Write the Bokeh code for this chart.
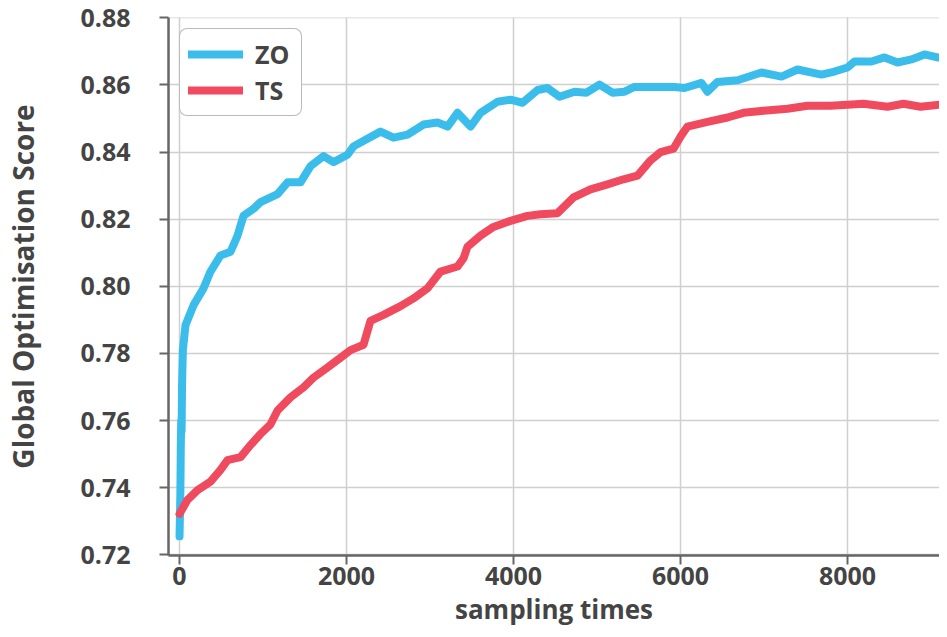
from bokeh.plotting import figure
from bokeh.models import FixedTicker, PrintfTickFormatter, Legend, LegendItem, Range1d
from bokeh.embed import file_html
from bokeh.resources import INLINE

# ---- data ----
zo_x = [0, 10, 15, 20, 25, 30, 40, 72, 168, 287, 371, 491, 611, 695, 766, 886, 970, 1174,
        1294, 1449, 1569, 1725, 1844, 2012, 2084, 2228, 2407, 2563, 2731, 2922, 3090, 3210,
        3329, 3485, 3605, 3808, 3964, 4108, 4288, 4407, 4551, 4731, 4874, 5030, 5186, 5330,
        5449, 5725, 5928, 6048, 6252, 6323, 6443, 6683, 6970, 7210, 7401, 7689, 7844, 8000,
        8084, 8287, 8443, 8599, 8766, 8922, 9078, 9246]
zo_y = [0.7255, 0.738, 0.752, 0.760, 0.757, 0.770, 0.781, 0.7885, 0.7944, 0.7994, 0.8044,
        0.8092, 0.8103, 0.8151, 0.8210, 0.8231, 0.8251, 0.8275, 0.8310, 0.8310, 0.8358,
        0.8388, 0.8370, 0.8392, 0.8417, 0.8437, 0.8461, 0.8443, 0.8452, 0.8482, 0.8488,
        0.8476, 0.8517, 0.8476, 0.8517, 0.8550, 0.8556, 0.8547, 0.8585, 0.8591, 0.8565,
        0.8580, 0.8577, 0.8601, 0.8577, 0.8580, 0.8594, 0.8594, 0.8594, 0.8591, 0.8606,
        0.8580, 0.8609, 0.8614, 0.8637, 0.8625, 0.8646, 0.8631, 0.8640, 0.8652, 0.8670,
        0.8670, 0.8682, 0.8667, 0.8676, 0.8691, 0.8682, 0.8682]

ts_x = [0, 96, 216, 371, 491, 575, 731, 850, 970, 1090, 1174, 1329, 1485, 1605, 1772, 1928,
        2048, 2204, 2287, 2443, 2647, 2802, 2970, 3126, 3329, 3401, 3449, 3605, 3760, 3964,
        4168, 4323, 4527, 4719, 4922, 5126, 5317, 5485, 5641, 5761, 5916, 6000, 6084, 6323,
        6563, 6754, 6994, 7281, 7521, 7796, 8000, 8192, 8479, 8671, 8875, 9198]
ts_y = [0.7322, 0.7364, 0.7393, 0.7418, 0.7453, 0.7482, 0.7491, 0.7527, 0.7560, 0.7589,
        0.7630, 0.7669, 0.7699, 0.7728, 0.7758, 0.7787, 0.7810, 0.7826, 0.7897, 0.7915,
        0.7941, 0.7964, 0.7994, 0.8044, 0.8059, 0.8083, 0.8118, 0.8151, 0.8177, 0.8195,
        0.8210, 0.8215, 0.8218, 0.8265, 0.8289, 0.8304, 0.8319, 0.8330, 0.8375, 0.8400,
        0.8410, 0.8446, 0.8476, 0.8490, 0.8503, 0.8517, 0.8523, 0.8529, 0.8538, 0.8538,
        0.8541, 0.8544, 0.8535, 0.8544, 0.8535, 0.8544]

series_names = ["ZO", "TS"]
x_ticks = [0, 2000, 4000, 6000, 8000]
y_ticks = [0.72, 0.74, 0.76, 0.78, 0.80, 0.82, 0.84, 0.86, 0.88]

BLUE = "#3BBDEC"
RED = "#F04A5F"
TXT = "#444444"
AX = "#666666"
FONT = "Open Sans"

p = figure(width=939, height=629, output_backend="svg", toolbar_location=None,
           x_range=Range1d(-132, 9102), y_range=Range1d(0.7198, 0.8801),
           min_border_left=168, min_border_right=0, min_border_top=17, min_border_bottom=0)
p.outline_line_color = None
p.background_fill_color = "white"
p.border_fill_color = "white"

r1 = p.line(zo_x, zo_y, line_color=BLUE, line_width=8, line_join="round", line_cap="round")
r2 = p.line(ts_x, ts_y, line_color=RED, line_width=8, line_join="round", line_cap="round")

# axes
for ax in (p.xaxis[0], p.yaxis[0]):
    ax.axis_line_color = AX
    ax.axis_line_width = 2.5
    ax.major_tick_line_color = AX
    ax.major_tick_line_width = 2
    ax.major_tick_out = 9
    ax.major_tick_in = 0
    ax.minor_tick_line_color = None
    ax.major_label_text_font = FONT
    ax.major_label_text_font_style = "bold"
    ax.major_label_text_color = TXT
    ax.major_label_text_font_size = "25px"
    ax.axis_label_text_font = FONT
    ax.axis_label_text_font_style = "bold"
    ax.axis_label_text_color = TXT

p.xaxis[0].axis_label_text_font_size = "26px"
p.yaxis[0].axis_label_text_font_size = "28px"
p.xaxis[0].ticker = FixedTicker(ticks=x_ticks)
p.yaxis[0].ticker = FixedTicker(ticks=y_ticks)
p.yaxis[0].formatter = PrintfTickFormatter(format="%.2f")
p.xaxis[0].axis_label = "sampling times"
p.yaxis[0].axis_label = "Global Optimisation Score"
p.xaxis[0].major_label_standoff = 2
p.xaxis[0].axis_label_standoff = 3
p.yaxis[0].major_label_standoff = 29
p.yaxis[0].axis_label_standoff = 35

p.xgrid[0].ticker = FixedTicker(ticks=x_ticks)
p.ygrid[0].ticker = FixedTicker(ticks=y_ticks)
for g in (p.xgrid[0], p.ygrid[0]):
    g.grid_line_color = "#cfcfcf"
    g.grid_line_width = 1.5

legend = Legend(items=[LegendItem(label=series_names[0], renderers=[r1]),
                       LegendItem(label=series_names[1], renderers=[r2])],
                location="top_left")
legend.margin = 11
legend.padding = 8
legend.spacing = 2
legend.glyph_width = 55
legend.glyph_height = 30
legend.label_standoff = 12
legend.label_width = 38
legend.label_text_font = FONT
legend.label_text_font_style = "bold"
legend.label_text_font_size = "25px"
legend.label_text_color = TXT
legend.border_line_color = "#777777"
legend.border_line_width = 1.2
legend.background_fill_color = "white"
legend.background_fill_alpha = 1.0
try:
    legend.border_radius = 8
except Exception:
    pass
p.add_layout(legend)

open("out.html", "w").write(file_html(p, INLINE))
